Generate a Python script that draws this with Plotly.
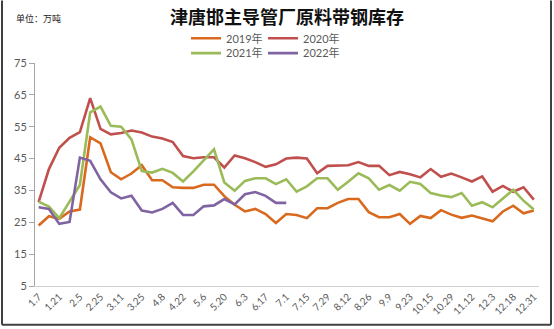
import plotly.graph_objects as go

# ---- data ----
tick_labels = ["1.7", "1.21", "2.5", "2.25", "3.11", "3.25", "4.8", "4.22", "5.6", "5.20",
               "6.3", "6.17", "7.1", "7.15", "7.29", "8.12", "8.26", "9.9", "9.23", "10.15",
               "10.29", "11.12", "12.3", "12.18", "12.31"]
n_points = 49
weeks = list(range(n_points))

s2019 = [24.0, 26.9, 26.1, 28.4, 29.0, 51.7, 49.8, 40.7, 38.5, 40.3,
         42.9, 38.2, 38.2, 36.0, 35.8, 35.8, 36.8, 36.8, 33.2, 30.5,
         28.4, 29.2, 27.6, 24.8, 27.6, 27.3, 26.3, 29.4, 29.4, 31.1,
         32.3, 32.3, 28.2, 26.6, 26.6, 27.6, 24.5, 27.0, 26.3, 28.8,
         27.4, 26.4, 27.1, 26.3, 25.3, 28.4, 30.2, 27.8, 28.7]
s2020 = [31.3, 41.7, 48.4, 51.5, 53.3, 64.0, 54.3, 52.6, 53.0, 53.8,
         53.2, 51.9, 51.3, 50.2, 45.8, 45.1, 45.4, 45.4, 42.2, 46.0,
         45.1, 43.9, 42.4, 43.2, 45.0, 45.3, 45.0, 40.4, 42.7, 42.9,
         42.9, 43.9, 42.7, 42.7, 39.8, 40.8, 40.1, 39.1, 41.7, 39.3,
         40.3, 39.1, 37.8, 39.4, 34.6, 36.4, 34.6, 36.0, 32.1]
s2021 = [31.5, 29.9, 26.3, 31.3, 36.7, 59.5, 61.3, 55.3, 55.0, 51.0,
         41.1, 40.6, 41.8, 40.5, 37.8, 41.0, 44.6, 47.9, 37.5, 34.9,
         38.0, 38.8, 38.8, 37.0, 38.5, 34.6, 36.3, 38.8, 38.8, 35.2,
         37.7, 40.4, 38.8, 35.2, 36.7, 34.9, 37.7, 37.0, 34.2, 33.4,
         32.9, 34.2, 30.2, 31.3, 29.7, 32.3, 35.2, 31.8, 29.0]
s2022 = [29.7, 29.2, 24.5, 25.1, 45.3, 44.3, 38.5, 34.4, 32.5, 33.3,
         28.7, 28.1, 29.2, 31.1, 27.3, 27.3, 30.0, 30.3, 32.3, 30.6,
         33.8, 34.5, 33.3, 31.1, 31.1]

series_names = ["2019年", "2020年", "2021年", "2022年"]
series_colors = ["#D9691F", "#C0504D", "#9BBB59", "#8064A2"]
series_values = [s2019, s2020, s2021, s2022]
series_legend = ["legend", "legend", "legend2", "legend2"]

W, H = 554, 329
ml, mr, mt, mb = 35, 15, 63, 41

fig = go.Figure()
for name, color, vals, lg in zip(series_names, series_colors, series_values, series_legend):
    fig.add_trace(go.Scatter(
        x=weeks[:len(vals)], y=vals, mode="lines", name=name,
        line=dict(color=color, width=2.6), legend=lg))

pw = W - ml - mr
ph = H - mt - mb

def px_x(p):
    return (p - ml) / pw

def px_y(p):
    return 1 - (p - mt) / ph

legend_common = dict(orientation="h", xanchor="left", yanchor="middle",
                     font=dict(family="Lato, Noto Sans CJK SC", size=11, color="#595959"),
                     bgcolor="rgba(0,0,0,0)", entrywidth=32, itemwidth=30,
                     traceorder="normal")

fig.update_layout(
    width=W, height=H,
    margin=dict(l=ml, r=mr, t=mt, b=mb),
    paper_bgcolor="white", plot_bgcolor="white",
    showlegend=True,
    legend=dict(x=px_x(186), y=px_y(38), **legend_common),
    legend2=dict(x=px_x(186), y=px_y(53), **legend_common),
    title=dict(text="<b>津唐邯主导管厂原料带钢库存</b>", x=0.5, xref="paper",
               xanchor="center", y=1 - 18 / H, yanchor="middle",
               font=dict(family="Noto Sans CJK SC", size=18, color="#111111")),
    annotations=[dict(text="单位：万吨", xref="paper", yref="paper",
                      x=px_x(14), y=px_y(18), xanchor="left", yanchor="middle",
                      showarrow=False,
                      font=dict(family="Noto Sans CJK SC", size=9, color="#222222"))],
    xaxis=dict(range=[-0.35, 48.5], tickmode="array",
               tickvals=weeks[::2], ticktext=tick_labels, tickangle=-45,
               showgrid=False, zeroline=False, showline=True, linecolor="#D0D0D0",
               linewidth=1, ticks="",
               tickfont=dict(family="Lato, Noto Sans", size=10, color="#595959")),
    yaxis=dict(range=[5, 75], tickmode="array", tickvals=list(range(5, 76, 10)),
               showgrid=False, zeroline=False, showline=True, linecolor="#A6A6A6",
               linewidth=1, ticks="outside", ticklen=5, tickcolor="#A6A6A6",
               tickfont=dict(family="Lato, Noto Sans", size=11, color="#595959")),
    shapes=[
        dict(type="line", xref="paper", yref="paper", x0=px_x(2), x1=px_x(2),
             y0=px_y(0), y1=px_y(327), line=dict(color="#404040", width=2)),
        dict(type="line", xref="paper", yref="paper", x0=px_x(551), x1=px_x(551),
             y0=px_y(0), y1=px_y(327), line=dict(color="#404040", width=2)),
        dict(type="line", xref="paper", yref="paper", x0=px_x(2), x1=px_x(551),
             y0=px_y(327), y1=px_y(327), line=dict(color="#404040", width=2)),
    ],
)

fig.write_html("out.html")
